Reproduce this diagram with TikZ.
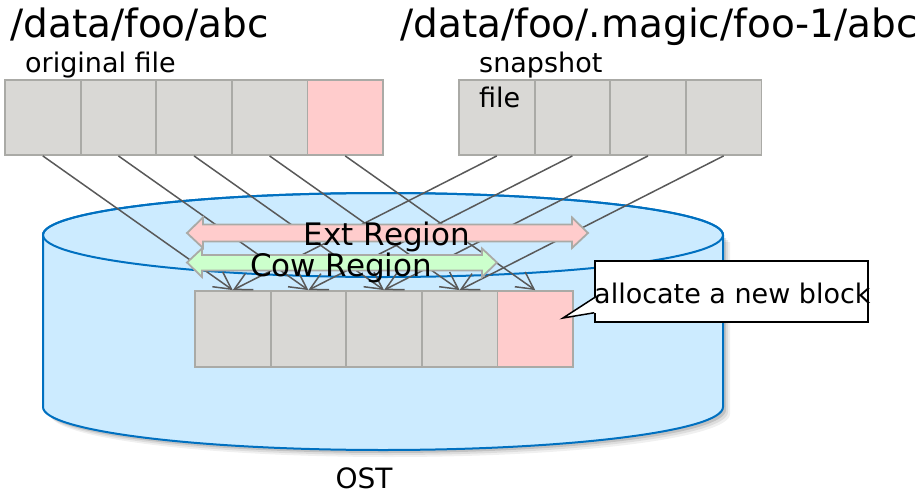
\documentclass[tikz,border=0pt]{standalone}
\usepackage{fontspec}
\setmainfont{DejaVu Sans}
\usetikzlibrary{arrows.meta}
\definecolor{blockgray}{RGB}{217,216,213}
\definecolor{blockedge}{RGB}{170,170,166}
\definecolor{pinkfill}{RGB}{255,204,204}
\definecolor{greenfill}{RGB}{204,255,204}
\definecolor{cylfill}{RGB}{204,235,255}
\definecolor{cyledge}{RGB}{0,112,192}
\definecolor{linkgray}{RGB}{89,89,89}
\begin{document}
\begin{tikzpicture}[x=1pt,y=-1pt,
  blk/.style={draw=blockedge, line width=1.8pt, fill=blockgray, minimum width=75.6pt, minimum height=75pt, inner sep=0pt, anchor=center},
  newblk/.style={blk, fill=pinkfill},
  link/.style={draw=linkgray, line width=1.5pt, -{Straight Barb[length=17pt,width=18pt]}},
  regionarrow/.style={draw=blockedge, line width=1.8pt},
  lbl/.style={inner sep=0pt, anchor=base west},
  big/.style={font=\fontsize{39}{46}\selectfont},
  mid/.style={font=\fontsize{27}{32}\selectfont},
  reg/.style={inner sep=0pt, anchor=base, font=\fontsize{31}{37}\selectfont}]
\useasboundingbox (0,0) rectangle (922,493);

% titles
\node[lbl, big] (t1) at (10,37) {/data/foo/abc};
\node[lbl, big] (t2) at (400,37) {/data/foo/.magic/foo-1/abc};
\node[lbl, mid] (l1) at (25,72) {original file};
\node[lbl, mid] (l2) at (479,72) {snapshot};

% cylinder (OST) with soft shadow
\foreach \o/\a in {7/0.06,5/0.08,3/0.12}{
  \fill[black, opacity=\a] (43+\o,235+\o) -- (43+\o,407+\o) arc[start angle=180,end angle=0,x radius=340,y radius=43] -- (723+\o,235+\o) -- cycle;
}
\filldraw[fill=cylfill, draw=cyledge, line width=2pt] (43,235) -- (43,407) arc[start angle=180,end angle=0,x radius=340,y radius=43] -- (723,235) arc[start angle=0,end angle=-180,x radius=340,y radius=42] -- cycle;
\draw[cyledge, line width=2pt] (383,235) ellipse[x radius=340, y radius=42];
\node[inner sep=0pt, anchor=base, font=\fontsize{28}{33}\selectfont] (ost) at (364,488) {OST};

% top blocks
\node[blk] (o1) at (42.8,117.5) {};
\node[blk] (o2) at (118.4,117.5) {};
\node[blk] (o3) at (194,117.5) {};
\node[blk] (o4) at (269.6,117.5) {};
\node[newblk] (o5) at (345.2,117.5) {};
\node[blk] (s1) at (496.8,117.5) {};
\node[blk] (s2) at (572.4,117.5) {};
\node[blk] (s3) at (648,117.5) {};
\node[blk] (s4) at (723.6,117.5) {};
\node[lbl, mid] (l3) at (479,107) {file};

% bottom blocks
\node[blk, minimum height=76pt] (b1) at (232.8,329) {};
\node[blk, minimum height=76pt] (b2) at (308.4,329) {};
\node[blk, minimum height=76pt] (b3) at (384,329) {};
\node[blk, minimum height=76pt] (b4) at (459.6,329) {};
\node[newblk, minimum height=76pt] (b5) at (535.2,329) {};

% links
\draw[link] (o1.south) -- (b1.north);
\draw[link] (o2.south) -- (b2.north);
\draw[link] (o3.south) -- (b3.north);
\draw[link] (o4.south) -- (b4.north);
\draw[link] (o5.south) -- (b5.north);
\draw[link] (s1.south) -- (b1.north);
\draw[link] (s2.south) -- (b2.north);
\draw[link] (s3.south) -- (b3.north);
\draw[link] (s4.south) -- (b4.north);

% region arrows
\filldraw[regionarrow, fill=pinkfill] (187,233) -- (203,217.5) -- (203,224.5) -- (572,224.5) -- (572,217.5) -- (588,233) -- (572,248) -- (572,241.5) -- (203,241.5) -- (203,248) -- cycle;
\filldraw[regionarrow, fill=greenfill] (187,262.5) -- (202,248.5) -- (202,255) -- (482,255) -- (482,248.5) -- (497,262.5) -- (482,277) -- (482,270.5) -- (202,270.5) -- (202,277) -- cycle;
\node[reg] (ext) at (387,245) {Ext Region};
\node[reg] (cow) at (341,276) {Cow Region};

% callout
\node[draw=black, fill=white, line width=1.5pt, minimum width=273pt, minimum height=61pt, inner sep=0pt] (note) at (731.5,291.5) {};
\fill[white] ([yshift=25pt,xshift=1.5pt]note.south west) -- (563,318) -- ([yshift=10pt,xshift=1.5pt]note.south west) -- cycle;
\draw[black, line width=1.5pt, line join=miter] ([yshift=25pt]note.south west) -- (563,318) -- ([yshift=10pt]note.south west);
\node[lbl, mid] (notetext) at (594,303) {allocate a new block};
\end{tikzpicture}
\end{document}
